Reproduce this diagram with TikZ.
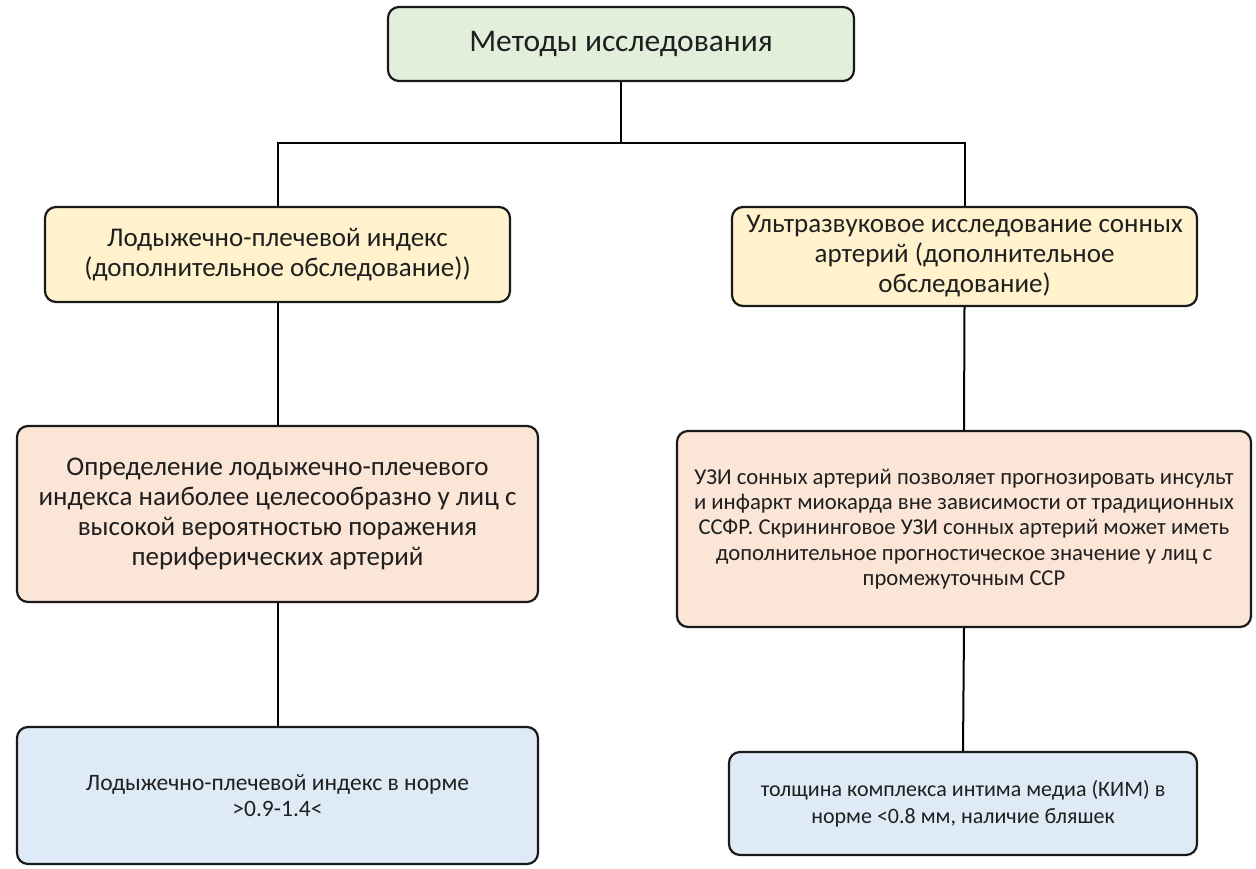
\documentclass[tikz,border=0pt]{standalone}
\usepackage{fontspec}
\setmainfont{Carlito}
\definecolor{boxgreen}{HTML}{E2EFDA}
\definecolor{boxyellow}{HTML}{FFF2CC}
\definecolor{boxpink}{HTML}{FBE5D6}
\definecolor{boxblue}{HTML}{DEEBF7}
\definecolor{edge}{HTML}{1A1A1A}
\tikzset{
  card/.style={draw=edge, line width=2.2pt, rounded corners=11pt,
    inner sep=0pt, align=center, text=black!88},
  big/.style={font=\fontsize{31.5}{36}\selectfont},
  mid/.style={font=\fontsize{27}{30}\selectfont},
  midsmall/.style={font=\fontsize{22.7}{25.2}\selectfont},
  lownorm/.style={font=\fontsize{23.5}{26}\selectfont},
  small/.style={font=\fontsize{22}{27}\selectfont},
  link/.style={draw=black, line width=2pt}
}
\begin{document}
\begin{tikzpicture}[x=1pt, y=-1pt]
\useasboundingbox (0,0) rectangle (1256,868);

% top level
\node[card, big, fill=boxgreen, minimum width=466pt, minimum height=74pt]
  (top) at (621,44) {Методы исследования};

% second level
\node[card, mid, fill=boxyellow, minimum width=465pt, minimum height=95pt]
  (lpi) at (277.5,254.5) {Лодыжечно-плечевой индекс\\(дополнительное обследование))};
\node[card, mid, fill=boxyellow, minimum width=465pt, minimum height=99pt]
  (usi) at (964.5,256.5) {Ультразвуковое исследование сонных\\артерий (дополнительное\\обследование)};

% third level
\node[card, mid, fill=boxpink, minimum width=521pt, minimum height=176pt]
  (lpidef) at (277.5,514) {Определение лодыжечно-плечевого\\индекса наиболее целесообразно у лиц с\\высокой вероятностью поражения\\периферических артерий};
\node[card, midsmall, fill=boxpink, minimum width=574pt, minimum height=196pt]
  (usidef) at (964,529) {УЗИ сонных артерий позволяет прогнозировать инсульт\\и инфаркт миокарда вне зависимости от традиционных\\ССФР. Скрининговое УЗИ сонных артерий может иметь\\дополнительное прогностическое значение у лиц с\\промежуточным ССР};

% fourth level
\node[card, lownorm, fill=boxblue, minimum width=521pt, minimum height=137pt]
  (lpinorm) at (277.5,795.5) {Лодыжечно-плечевой индекс в норме\\>0.9-1.4<};
\node[card, small, fill=boxblue, minimum width=468pt, minimum height=103pt]
  (usinorm) at (963,803.5) {толщина комплекса интима медиа (КИМ) в\\норме <0.8 мм, наличие бляшек};

% connectors
\coordinate (bus) at (621,143);
\draw[link] (top.south) -- (bus);
\draw[link] (lpi.north) |- (bus) -| (usi.north);
\draw[link] (lpi.south) -- (lpidef.north);
\draw[link] (lpidef.south) -- (lpinorm.north);
\draw[link] (usi.south) -- (usidef.north);
\draw[link] (usidef.south) -- (usinorm.north);
\end{tikzpicture}
\end{document}
